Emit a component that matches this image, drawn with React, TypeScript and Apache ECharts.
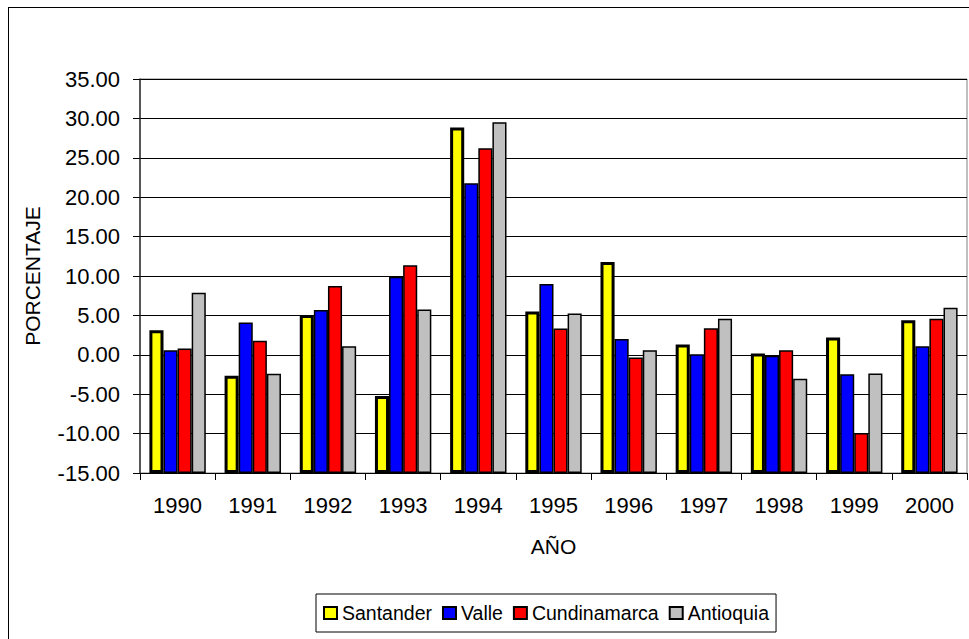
import React, { useEffect, useRef } from "react";
import * as echarts from "echarts";

const years = ["1990", "1991", "1992", "1993", "1994", "1995", "1996", "1997", "1998", "1999", "2000"];
const santander = [3.13, -2.67, 5.04, -5.22, 28.84, 5.5, 11.77, 1.31, 0.17, 2.2, 4.4];
const valle = [0.59, 4.1, 5.67, 9.9, 21.77, 8.97, 1.99, 0.08, -0.13, -2.46, 1.1];
const cundinamarca = [0.8, 1.77, 8.72, 11.35, 26.22, 3.35, -0.34, 3.38, 0.59, -9.92, 4.57];
const antioquia = [7.87, -2.42, 1.1, 5.76, 29.52, 5.25, 0.59, 4.57, -3.05, -2.37, 5.97];

const axisMin = -15;
const axisMax = 35;
const axisStep = 5;

const FONT = "'Liberation Sans', Arial, sans-serif";

export default function App() {
  const ref = useRef<HTMLDivElement>(null);
  useEffect(() => {
    if (!ref.current) return;
    const chart = echarts.init(ref.current, undefined, { renderer: "svg" });
    const shift = (arr: number[]) => arr.map((v) => +(v - axisMin).toFixed(4));
    const mk = (name: string, data: number[], color: string, bw: number) => ({
      name,
      type: "bar",
      data: shift(data),
      barGap: "0%",
      barCategoryGap: "25%",
      itemStyle: { color, borderColor: "#000", borderWidth: bw },
      emphasis: { disabled: true },
    });
    chart.setOption({
      animation: false,
      textStyle: { fontFamily: FONT },
      grid: {
        left: 132,
        top: 72,
        right: 2,
        bottom: 166,
        show: true,
        borderColor: "#808080",
        borderWidth: 1,
        backgroundColor: "transparent",
      },
      legend: {
        left: 308,
        top: 587,
        orient: "horizontal",
        icon: "rect",
        itemWidth: 13,
        itemHeight: 12,
        itemGap: 10,
        padding: [9, 7],
        borderColor: "#000",
        borderWidth: 1,
        textStyle: { fontSize: 19.5, color: "#000", fontFamily: FONT },
        data: ["Santander", "Valle", "Cundinamarca", "Antioquia"],
      },
      xAxis: {
        type: "category",
        data: years,
        name: "AÑO",
        nameLocation: "middle",
        nameGap: 63,
        nameTextStyle: { fontSize: 21, color: "#000", fontFamily: FONT },
        axisLine: { lineStyle: { color: "#000", width: 1 } },
        axisTick: { show: true, length: 7, lineStyle: { color: "#000" } },
        axisLabel: { fontSize: 22, color: "#000", margin: 21, fontFamily: FONT },
      },
      yAxis: {
        type: "value",
        min: 0,
        max: axisMax - axisMin,
        interval: axisStep,
        name: "PORCENTAJE",
        nameLocation: "middle",
        nameGap: 97,
        nameTextStyle: { fontSize: 21, color: "#000", fontFamily: FONT },
        axisLine: { show: true, lineStyle: { color: "#333", width: 1.5 } },
        axisTick: { show: true, length: 7, lineStyle: { color: "#000" } },
        axisLabel: {
          fontSize: 22,
          color: "#000",
          margin: 20,
          fontFamily: FONT,
          formatter: (v: number) => (v + axisMin).toFixed(2),
        },
        splitLine: { show: true, lineStyle: { color: "#000", width: 1 } },
      },
      series: [
        mk("Santander", santander, "#FFFF00", 3),
        mk("Valle", valle, "#0000FF", 1.5),
        mk("Cundinamarca", cundinamarca, "#FF0000", 1.5),
        mk("Antioquia", antioquia, "#C0C0C0", 1.5),
      ],
    });
    return () => chart.dispose();
  }, []);
  return (
    <>
      <div
        style={{
          position: "absolute",
          left: 8,
          top: 7,
          width: 961,
          height: 632,
          borderTop: "1px solid #000",
          borderLeft: "1px solid #000",
          boxSizing: "border-box",
          pointerEvents: "none",
        }}
      />
      <div ref={ref} style={{ position: "absolute", left: 8, top: 7, width: 961, height: 632 }} />
    </>
  );
}
